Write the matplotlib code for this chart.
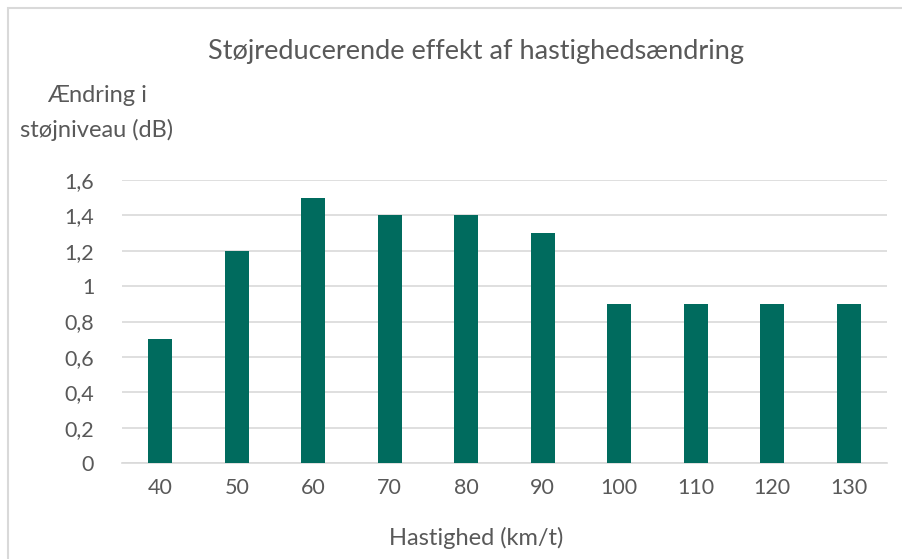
import matplotlib
matplotlib.use("Agg")
import matplotlib.pyplot as plt
from matplotlib.patches import Rectangle

# data
hastighed = ["40", "50", "60", "70", "80", "90", "100", "110", "120", "130"]
aendring = [0.7, 1.2, 1.5, 1.4, 1.4, 1.3, 0.9, 0.9, 0.9, 0.9]
yticks = [0, 0.2, 0.4, 0.6, 0.8, 1.0, 1.2, 1.4, 1.6]
ytick_labels = ["0", "0,2", "0,4", "0,6", "0,8", "1", "1,2", "1,4", "1,6"]

plt.rcParams['font.family'] = ['Lato', 'DejaVu Sans']
txt_color = "#595959"
bar_color = "#006B5E"

W, H = 903, 559
fig = plt.figure(figsize=(W / 100, H / 100), dpi=100)

# chart border (light gray, cropped at right/bottom)
fig.patches.append(Rectangle((8 / W, -0.05), 1.1, 1 - 8 / H + 0.05,
                             transform=fig.transFigure, fill=False,
                             edgecolor="#D9D9D9", linewidth=1.5))

ax = fig.add_axes([122 / W, (H - 463) / H, (887 - 122) / W, (463 - 180) / H])
x = range(len(hastighed))
ax.bar(x, aendring, width=0.31, color=bar_color, zorder=3)

ax.set_xlim(-0.5, len(hastighed) - 0.5)
ax.set_ylim(0, 1.6)
ax.set_yticks(yticks)
ax.set_yticklabels(ytick_labels)
ax.set_xticks(list(x))
ax.set_xticklabels(hastighed)
ax.tick_params(axis="both", length=0, labelsize=15.5, colors=txt_color)
ax.tick_params(axis="y", pad=20)
ax.tick_params(axis="x", pad=11)
ax.grid(axis="y", color="#D9D9D9", linewidth=1.2, zorder=0)
for s in ["top", "right", "left"]:
    ax.spines[s].set_visible(False)
ax.spines["bottom"].set_color("#D9D9D9")
ax.spines["bottom"].set_linewidth(1.2)

fig.text(476 / W, 1 - 52 / H, "Støjreducerende effekt af hastighedsændring",
         ha="center", va="center", fontsize=19.5, color=txt_color)
fig.text(97 / W, 1 - 95 / H, "Ændring i", ha="center", va="center",
         fontsize=17, color=txt_color)
fig.text(97 / W, 1 - 130 / H, "støjniveau (dB)", ha="center", va="center",
         fontsize=17, color=txt_color)
fig.text(476 / W, 1 - 538 / H, "Hastighed (km/t)", ha="center", va="center",
         fontsize=17, color=txt_color)

fig.savefig("out.png", dpi=100)
